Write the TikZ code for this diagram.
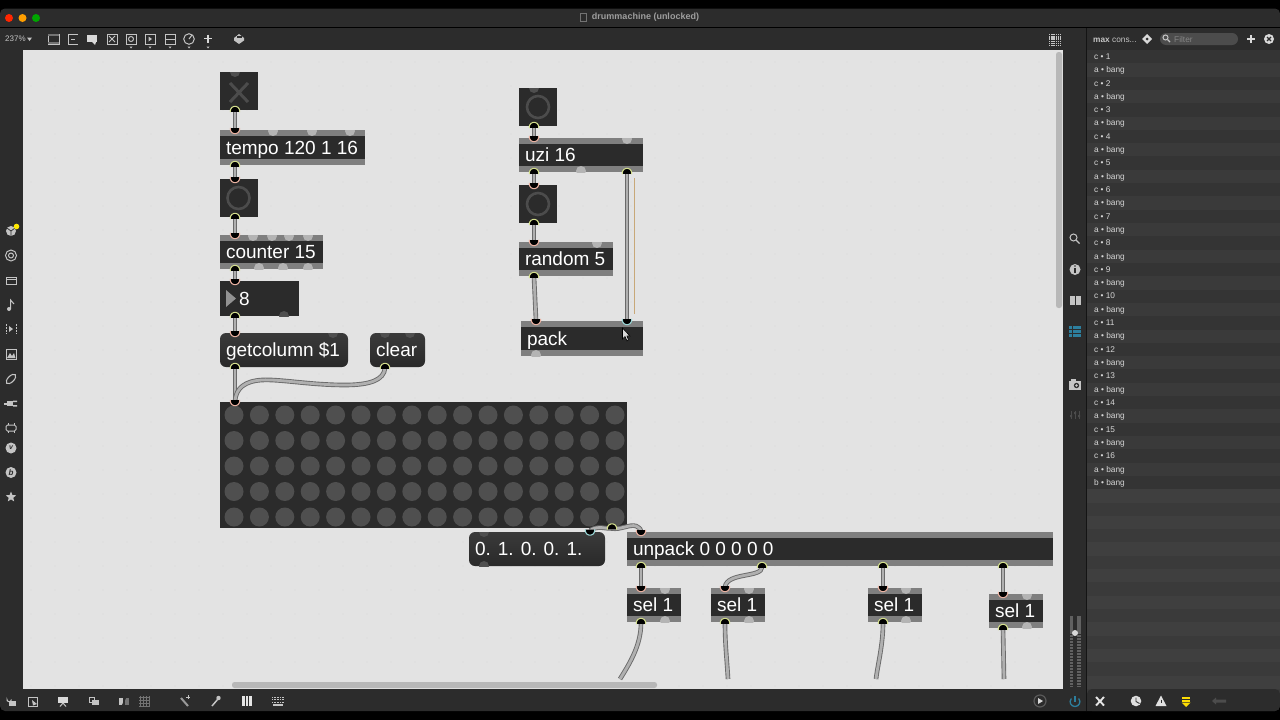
\documentclass[tikz,border=0pt]{standalone}
\usepackage{fontspec}
\setmainfont{Liberation Sans}
\usetikzlibrary{shapes.geometric}
\definecolor{winbar}{HTML}{2C2C2C}
\definecolor{canvasbg}{HTML}{E3E3E3}
\definecolor{griddot}{HTML}{DADADA}
\definecolor{objdark}{HTML}{2B2B2B}
\definecolor{strip}{HTML}{7F7F7F}
\definecolor{stripdot}{HTML}{B4B4B4}
\definecolor{msgtop}{HTML}{3A3A3A}
\definecolor{msgbot}{HTML}{292929}
\definecolor{darkdot}{HTML}{4F4F4F}
\definecolor{ringout}{HTML}{D3DE8C}
\definecolor{ringin}{HTML}{E8B0A0}
\definecolor{ringteal}{HTML}{9AD6D6}
\definecolor{wirebd}{HTML}{6A6A6A}
\definecolor{wirecore}{HTML}{B0B0B0}
\definecolor{icon}{HTML}{C4C4C4}
\definecolor{icondim}{HTML}{4C4C4C}
\definecolor{blueic}{HTML}{2D7F9E}
\definecolor{rowa}{HTML}{343434}
\definecolor{rowb}{HTML}{3A3A3A}
\definecolor{rowc}{HTML}{3A3A3A}
\definecolor{rowd}{HTML}{3F3F3F}
\definecolor{selline}{HTML}{C8A878}
\pgfdeclarelayer{wirelayer}
\pgfdeclarelayer{portlayer}
\pgfsetlayers{main,wirelayer,portlayer}
\tikzset{
  objbox/.style={rectangle,fill=strip,inner sep=0pt,outer sep=0pt},
  darkbox/.style={rectangle,fill=objdark,inner sep=0pt,outer sep=0pt},
  msgbox/.style={rectangle,rounded corners=6pt,top color=msgtop,bottom color=msgbot,inner sep=0pt,outer sep=0pt},
  objtext/.style={text=white,font=\fontsize{19}{19}\selectfont,inner sep=0pt,outer sep=0pt,anchor=base west},
  portdot/.style={circle,minimum size=9.5pt,inner sep=0pt,outer sep=0pt},
  ringline/.style={fill=black,line width=1.1pt,line join=round,line cap=round},
  wire/.style={draw=wirebd,line width=0.9pt,double=wirecore,double distance=2.8pt},
  ic/.style={draw=icon,line width=1pt},
  icf/.style={fill=icon},
  constext/.style={text=white!84!black,font=\fontsize{8.3}{9}\selectfont,inner sep=0pt,anchor=base west},
}
% name x0 y0 x1 y1 text topdots botdots
\newcommand{\maxobj}[8]{%
  \pgfmathsetmacro\objW{#4-#2}\pgfmathsetmacro\objH{#5-#3}%
  \node[objbox,minimum width=\objW pt,minimum height=\objH pt,anchor=north west] (#1) at (#2,#3) {};
  \begin{scope}
    \clip (#1.south west) rectangle (#1.north east);
    \foreach \d in {#7} \fill[stripdot] (\d,#3+1) circle (5pt);
    \foreach \d in {#8} \fill[stripdot] (\d,#5-1) circle (5pt);
  \end{scope}
  \fill[objdark] (#2,#3+6) rectangle (#4,#5-6);
  \node[objtext] (#1-t) at ({#2+6},{(#3+#5)/2+6.8}) {#6};
}
% name x0 y0 x1 y1 text topdots botdots
\newcommand{\maxmsg}[8]{%
  \pgfmathsetmacro\objW{#4-#2}\pgfmathsetmacro\objH{#5-#3}%
  \node[msgbox,minimum width=\objW pt,minimum height=\objH pt,anchor=north west] (#1) at (#2,#3) {};
  \begin{scope}
    \clip (#1.south west) rectangle (#1.north east);
    \foreach \d in {#7} \fill[darkdot] (\d,#3) circle (5pt);
    \foreach \d in {#8} \fill[darkdot] (\d,#5) circle (5pt);
  \end{scope}
  \node[objtext] (#1-t) at ({#2+6},{(#3+#5)/2+6.8}) {#6};
}
\newcommand{\maxbtn}[4]{%
  \node[darkbox,minimum width=38pt,minimum height=38pt,anchor=north west] (#1) at (#2,#3) {};
  \begin{scope}
    \clip (#1.south west) rectangle (#1.north east);
    \fill[darkdot] (#4,#3) circle (5pt);
  \end{scope}
}
% ports: black dome with a coloured rim on the half inside the box
\newcommand{\pout}[3]{\begin{pgfonlayer}{portlayer}\node[portdot] (#1) at (#2,#3+1.5) {};
  \draw[ringline,draw=ringout] (#1.190) -- (#1.160) -- (#1.130) -- (#1.100) -- (#1.80) -- (#1.50) -- (#1.20) -- (#1.350);\end{pgfonlayer}}
\newcommand{\pin}[3]{\begin{pgfonlayer}{portlayer}\node[portdot] (#1) at (#2,#3-1.5) {};
  \draw[ringline,draw=ringin] (#1.170) -- (#1.200) -- (#1.230) -- (#1.260) -- (#1.280) -- (#1.310) -- (#1.340) -- (#1.10);\end{pgfonlayer}}
\newcommand{\pteal}[3]{\begin{pgfonlayer}{portlayer}\node[portdot] (#1) at (#2,#3-1.5) {};
  \draw[ringline,draw=ringteal] (#1.170) -- (#1.200) -- (#1.230) -- (#1.260) -- (#1.280) -- (#1.310) -- (#1.340) -- (#1.10);\end{pgfonlayer}}
\newcommand{\conn}[2]{\begin{pgfonlayer}{wirelayer}\draw[wire] (#1.center) -- (#2.center);\end{pgfonlayer}}
\begin{document}
\begin{tikzpicture}[x=1pt,y=-1pt]
\useasboundingbox (0,0) rectangle (1280,720);
% window
\fill[black] (0,0) rectangle (1280,720);
\fill[winbar,rounded corners=5pt] (0,8.5) rectangle (1280,711);
\draw[black,line width=0.8pt] (0,27.5) -- (1280,27.5);
\fill[canvasbg] (23,50) rectangle (1063,689);
\foreach \gx in {31,55,...,1055} \foreach \gy in {62,86,...,686} \fill[griddot] (\gx,\gy) circle (0.7pt);
% scroll bars
\fill[white!72!black,rounded corners=2.5pt] (232,682) rectangle (657,688);
\fill[white!72!black,rounded corners=2.5pt] (1056,52) rectangle (1062,308);
% title
\fill[red!70!orange] (9,18) circle (4pt);
\fill[orange!75!yellow] (22.5,18) circle (4pt);
\fill[green!65!black] (36,18) circle (4pt);
\node[text=white!62!black,font=\bfseries\fontsize{9}{9}\selectfont,inner sep=0pt] (title) at (645.5,17.5) {drummachine (unlocked)};
\draw[white!45!black,line width=0.8pt] (580.5,13.5) rectangle (586,21.5);
% toolbar
\node[text=icon,font=\fontsize{8}{9}\selectfont,inner sep=0pt,anchor=west] (zoomlabel) at (5,38.5) {237\%};
\fill[icon] (27,37.5) -- (32,37.5) -- (29.5,41) -- cycle;
\draw[ic] (48,34) rectangle (59,44); \fill[white!45!black] (48,34) rectangle (59,36); \fill[white!45!black] (48,42) rectangle (59,44);
\draw[ic] (78,34) -- (68,34) -- (68,44) -- (78,44); \draw[icon,line width=0.6pt] (71,39) -- (75,39);
\fill[white!85!black] (87,35) rectangle (97,42); \fill[white!85!black] (92,42) -- (96,42) -- (95,45) -- cycle;
\draw[ic] (107,34) rectangle (117,44); \draw[ic] (109,36) -- (115,42) (115,36) -- (109,42);
\draw[ic] (126,34) rectangle (136,44); \draw[ic] (131,39) circle (2.5pt);
\draw[ic] (145,34) rectangle (155,44); \fill[icon] (148.5,36.5) -- (152,39) -- (148.5,41.5) -- cycle;
\draw[ic] (165,34) rectangle (175,44); \draw[ic] (165,39) -- (175,39);
\draw[ic] (189,39) circle (5.3pt); \draw[ic] (189,39) -- (192,35);
\draw[white!85!black,line width=1.3pt] (204,38.5) -- (212,38.5) (208,34.5) -- (208,42.5);
\foreach \tx in {131,150,170,189,208} \fill[icon] (\tx-1.5,46.5) -- (\tx+1.5,46.5) -- (\tx,48.5) -- cycle;
\fill[icon] (234,38) -- (239,34) -- (244,38) -- (244,40.5) -- (239,44) -- (234,40.5) -- cycle;
\fill[winbar] (236.5,38) rectangle (241.5,36);
% grid icon
\foreach \ia in {0,1,...,5} \foreach \ib in {0,1,...,5} \fill[icon] (1049+2.2*\ia,34+2.2*\ib) rectangle ++(1.4,1.4);
% left icons
\fill[icon] (11,231) circle (5pt);
\draw[winbar,line width=0.7pt] (11,231) -- (11,236) (11,231) -- (7,228) (11,231) -- (15,228);
\fill[yellow!90!orange] (16.5,226.5) circle (2.8pt);
\draw[ic] (11,255.5) circle (5.5pt) (11,255.5) circle (2.5pt);
\draw[ic] (6,277) rectangle (16,284); \draw[icon,line width=0.6pt] (6,279) -- (16,279);
\fill[icon] (9,309) circle (2pt); \draw[ic] (10.6,309) -- (10.6,300) -- (14,304);
\draw[icon,dashed,line width=1pt,dash pattern=on 1.6pt off 1.4pt] (6,324) -- (6,334) (16,324) -- (16,334);
\fill[icon] (9,326) -- (13,329) -- (9,332) -- cycle;
\draw[ic] (6,349) rectangle (16,359); \fill[icon] (7,358) -- (10,353) -- (12,356) -- (14,353) -- (15.5,358) -- cycle;
\draw[icon,line width=1.1pt,rotate around={-45:(11,379)}] (11,379) ellipse (3pt and 6pt);
\fill[icon] (7,401) rectangle (13,406); \fill[icon] (4,403) rectangle (7,404.5); \fill[icon] (13,400.5) rectangle (17,402) (13,405) rectangle (17,406.5);
\draw[ic,rounded corners=1.5pt] (6,425) rectangle (16,431); \draw[ic] (8,423) -- (8,425) (14,423) -- (14,425) (8,431) -- (8,433) (14,431) -- (14,433);
\node[circle,fill=icon,inner sep=0pt,minimum size=11pt,font=\itshape\bfseries\fontsize{7}{7}\selectfont,text=winbar] (vizzie) at (11,448) {v};
\node[circle,fill=icon,inner sep=0pt,minimum size=11pt,font=\itshape\bfseries\fontsize{8}{8}\selectfont,text=winbar] (beap) at (11,472.5) {b};
\node[star,star points=5,star point ratio=2.3,fill=icon,inner sep=0pt,minimum size=11pt] (favstar) at (11,497) {};
% bottom bar icons
\draw[ic] (7,701) -- (7,699.5) arc (180:360:2.2pt); \fill[icon] (9,701) rectangle (16,706);
\draw[ic] (28,697) rectangle (37,706); \fill[icon] (32,700) -- (37,704) -- (33,705.5) -- cycle;
\fill[white!85!black] (58,697) rectangle (68,703); \draw[ic] (63,703) -- (60,706.5) (63,703) -- (66,706.5);
\draw[ic] (89,697) rectangle (94,702); \fill[icon] (92,699.5) rectangle (99,705);
\fill[icon] (119,698) rectangle (123,705); \fill[white!45!black] (125,698) rectangle (129,705); \draw[winbar,line width=0.8pt] (121,708) -- (127,695);
\foreach \ga in {140,143,146,149} \draw[white!45!black,line width=0.6pt] (\ga,696) -- (\ga,706);
\foreach \ga in {697,700,703,706} \draw[white!45!black,line width=0.6pt] (139,\ga) -- (150,\ga);
\draw[white!60!black,line width=2pt] (181,698) -- (188,706); \draw[ic] (188,695) -- (188,699) (186,697) -- (190,697);
\draw[icon,line width=1.5pt] (212,706) -- (218,699); \fill[icon] (218.5,698) circle (2.2pt);
\fill[white!90!black] (242,696) rectangle (252,706); \draw[winbar,line width=0.8pt] (245.3,696) -- (245.3,706) (248.7,696) -- (248.7,706);
\foreach \ky in {697,699.5,702} \draw[icon,line width=1pt,dash pattern=on 1pt off 0.6pt] (272,\ky) -- (284,\ky);
\fill[icon] (273,704) rectangle (283,706);
\draw[white!35!black,line width=1.2pt] (1040,701) circle (6pt); \fill[white!85!black] (1038,698) -- (1043,701) -- (1038,704) -- cycle;
% right strip
\draw[ic] (1073.5,237.5) circle (3.5pt); \draw[icon,line width=1.4pt] (1076,240) -- (1079.5,243.5);
\fill[icon] (1075,269.5) circle (5.5pt); \draw[winbar,line width=1.2pt] (1075,268) -- (1075,273); \fill[winbar] (1075,266) circle (0.8pt);
\fill[icon] (1069.5,296) rectangle (1074.5,304.5); \fill[icon] (1075.5,296) rectangle (1080.5,304.5);
\fill[blueic] (1069,326) rectangle (1080.5,336.5); \draw[winbar,line width=0.5pt] (1072,326) -- (1072,336.5) (1069,329.5) -- (1080.5,329.5) (1069,333) -- (1080.5,333);
\fill[icon] (1069,381) rectangle (1081,390); \fill[icon] (1071,379) rectangle (1076,381); \fill[winbar] (1076.5,385.5) circle (2.7pt); \fill[icon] (1076.5,385.5) circle (1.3pt);
\draw[icondim,line width=0.8pt] (1071,411) -- (1071,419) (1075,411) -- (1075,419) (1079,411) -- (1079,419);
\fill[icondim] (1070,415) rectangle (1072,417) (1074,412) rectangle (1076,414) (1078,415) rectangle (1080,417);
\fill[white!38!black] (1069.5,616) rectangle (1073,687); \fill[white!38!black] (1076.5,616) rectangle (1080.5,687);
\foreach \sy in {634,637,...,686} \draw[winbar,line width=0.6pt] (1069,\sy) -- (1081,\sy);
\fill[white!85!black] (1075,633) circle (3pt);
\draw[blueic,line width=1.3pt] (1071.3,698.5) .. controls (1068.5,702) and (1071,706.5) .. (1075,706.5) .. controls (1079,706.5) and (1081.5,702) .. (1078.7,698.5);
\draw[blueic,line width=1.3pt] (1075,696) -- (1075,701.5);
% console
\fill[winbar] (1087,28) rectangle (1280,50);
\foreach \r in {0,1,...,48}{
  \pgfmathtruncatemacro\isodd{mod(\r,2)}
  \ifnum\r<33
    \ifnum\isodd=0 \def\rc{rowa}\else\def\rc{rowb}\fi
  \else
    \ifnum\isodd=0 \def\rc{rowc}\else\def\rc{rowd}\fi
  \fi
  \fill[\rc] (1087,{50+13.31*\r}) rectangle (1280,{50+13.31*(\r+1)});
}
\fill[winbar,rounded corners=5pt] (1087,689) -- (1280,689) -- (1280,711) -- (1087,711) -- cycle;
\fill[black!92!white] (1086,28) rectangle (1087.3,711);
\node[constext,text=icon] (conshead) at (1093,42.5) {\textbf{max} cons...};
\fill[white!85!black] (1147,34) -- (1152,39) -- (1147,44) -- (1142,39) -- cycle; \fill[winbar] (1147,39) circle (1.5pt);
\fill[white!30!black,rounded corners=6pt] (1160,33) rectangle (1238,45);
\draw[icon,line width=1pt] (1165.5,37.5) circle (2.5pt); \draw[icon,line width=1.2pt] (1167.5,39.5) -- (1170,42);
\node[constext,text=white!52!black] (filter) at (1174,42) {Filter};
\draw[white!85!black,line width=1.4pt] (1247,39) -- (1255,39) (1251,35) -- (1251,43);
\fill[white!85!black] (1269,39) circle (5pt); \draw[winbar,line width=1.2pt] (1267,37) -- (1271,41) (1271,37) -- (1267,41);
\foreach \n in {1,...,16}{
  \pgfmathsetmacro\yc{59.4+26.62*(\n-1)}
  \pgfmathsetmacro\ya{\yc+13.31}
  \node[constext] at (1094,\yc) {c • \n};
  \node[constext] at (1094,\ya) {a • bang};
}
\node[constext] (lastline) at (1094,485.5) {b • bang};
% bottom right of console
\draw[white!90!black,line width=1.9pt] (1096,697) -- (1104,705.5) (1104,697) -- (1096,705.5);
\fill[white!88!black] (1136,701) circle (5.3pt); \draw[winbar,line width=0.9pt] (1136,697.5) -- (1136,701.5) -- (1139.5,703.5);
\fill[white!88!black] (1161,695.5) -- (1166.5,706) -- (1155.5,706) -- cycle; \draw[winbar,line width=1pt] (1161,699.5) -- (1161,703); 
\foreach \sy in {696.5,699.5} \fill[yellow!80!orange] (1182,\sy) rectangle (1190,\sy+2);
\fill[yellow!80!orange] (1181.5,702.5) -- (1190.5,702.5) -- (1186,707) -- cycle;
\fill[white!30!black] (1216,699.5) rectangle (1226,702.5) (1216,697.5) -- (1212,701) -- (1216,704.5) -- cycle;

% === patcher objects ===
\maxbtn{tog}{220}{72}{235}
\draw[icondim,line width=3pt] (230,83) -- (248,102) (248,83) -- (230,102);
\maxobj{tempo}{220}{130}{365}{165}{tempo 120 1 16}{273,312,350}{-50}
\maxbtn{btna}{220}{179}{-50}
\draw[icondim,line width=2.6pt] (238.5,198) circle (11pt);
\maxobj{counter}{220}{235}{323}{269}{counter 15}{253,272,289,308}{259,283,308}
\node[darkbox,minimum width=79pt,minimum height=35pt,anchor=north west] (num) at (220,281) {};
\fill[strip!85] (226,290) -- (236,298.5) -- (226,307) -- cycle;
\node[objtext] (num-t) at (239,305.3) {8};
\begin{scope}\clip (num.south west) rectangle (num.north east); \fill[darkdot] (284,316) circle (5pt);\end{scope}
\maxmsg{getcol}{220}{333}{348}{367}{getcolumn \$1}{333}{-50}
\maxmsg{clear}{370}{333}{425}{367}{clear}{385,410}{-50}
% matrix
\node[darkbox,minimum width=407pt,minimum height=126pt,anchor=north west] (matrix) at (220,402) {};
\foreach \mr in {0,1,2,3,4} \foreach \mc in {0,1,...,15} \fill[darkdot] ({234+25.4*\mc},{415+25.5*\mr}) circle (9.5pt);
\maxmsg{listm}{469}{532}{605}{566}{0. 1. 0. 0. 1.}{484}{484}
\maxobj{unpack}{627}{532}{1053}{566}{unpack 0 0 0 0 0}{-50}{-50}
\maxobj{selA}{627}{588}{681}{622}{sel 1}{665}{665}
\maxobj{selB}{711}{588}{765}{622}{sel 1}{749}{749}
\maxobj{selC}{868}{588}{922}{622}{sel 1}{906}{906}
\maxobj{selD}{989}{594}{1043}{628}{sel 1}{1027}{1027}
\maxbtn{btnb}{519}{88}{534}
\draw[icondim,line width=2.6pt] (538,107) circle (11pt);
\maxobj{uzi}{519}{138}{643}{172}{uzi 16}{627}{581}
\maxbtn{btnc}{519}{185}{-50}
\draw[icondim,line width=2.6pt] (538,204) circle (11pt);
\maxobj{random}{519}{242}{613}{276}{random 5}{597}{-50}
\maxobj{pack}{521}{321}{643}{356}{pack}{-50}{536}

% === ports ===
\pout{togo}{235}{109.5}
\pin{tempoi}{235}{130.5}
\pout{tempoo}{235}{164.5}
\pin{btnai}{235}{179.5}
\pout{btnao}{235}{216.5}
\pin{counti}{235}{235.5}
\pout{counto}{235}{268.5}
\pin{numi}{235}{281.5}
\pout{numo}{235}{315.5}
\pin{getcoli}{235}{333.5}
\pout{getcolo}{235}{366.5}
\pout{clearo}{385}{366.5}
\pin{mati}{235}{402.5}
\pout{mato}{612}{527}
\pteal{listi}{590}{532}
\pin{unpi}{641}{532.5}
\pout{unpa}{641}{565.5}
\pout{unpb}{762}{565.5}
\pout{unpc}{883}{565.5}
\pout{unpd}{1003}{565.5}
\pin{selAi}{641}{588.5}
\pout{selAo}{641}{621.5}
\pin{selBi}{725}{588.5}
\pout{selBo}{725}{621.5}
\pin{selCi}{883}{588.5}
\pout{selCo}{883}{621.5}
\pin{selDi}{1003}{594.5}
\pout{selDo}{1003}{627.5}
\pout{btnbo}{534}{125.5}
\pin{uzii}{534}{138.5}
\pout{uzia}{534}{171.5}
\pout{uzib}{627}{171.5}
\pin{btnci}{534}{185.5}
\pout{btnco}{534}{222.5}
\pin{randi}{534}{242.5}
\pout{rando}{534}{275.5}
\pin{packa}{536}{321.5}
\pteal{packb}{627}{321.5}

% === connectors ===
\conn{togo}{tempoi}
\conn{tempoo}{btnai}
\conn{btnao}{counti}
\conn{counto}{numi}
\conn{numo}{getcoli}
\conn{getcolo}{mati}
\conn{unpa}{selAi}
\conn{unpc}{selCi}
\conn{unpd}{selDi}
\conn{btnbo}{uzii}
\conn{uzia}{btnci}
\conn{btnco}{randi}
\conn{rando}{packa}
\conn{uzib}{packb}
\coordinate (endA) at (620,679);
\coordinate (endB) at (728,679);
\coordinate (endC) at (876,679);
\coordinate (endD) at (1004,679);
\coordinate (clearm) at (345,385);
\coordinate (clearn) at (262,380);
\begin{pgfonlayer}{wirelayer}
\draw[wire] (clearo.center) .. controls (384,380) and (370,385) .. (clearm) .. controls (310,385) and (280,379) .. (clearn) .. controls (245,381) and (236,388) .. (mati.center);
\draw[wire] (mato.center) .. controls (606,529) and (598,525) .. (listi.center);
\draw[wire] (mato.center) .. controls (620,530) and (630,524) .. (636,526) .. controls (640,528) and (641,530) .. (unpi.center);
\draw[wire] (unpb.center) .. controls (762,578) and (727,572) .. (selBi.center);
\draw[wire] (selAo.center) .. controls (641,645) and (630,663) .. (endA);
\draw[wire] (selBo.center) .. controls (725,645) and (727,660) .. (endB);
\draw[wire] (selCo.center) .. controls (883,645) and (878,663) .. (endC);
\draw[wire] (selDo.center) -- (endD);
\end{pgfonlayer}
% selection line and pointer
\coordinate (selU) at (634.5,178);
\coordinate (selL) at (634.5,314);
\begin{pgfonlayer}{portlayer}
\draw[selline,line width=1.4pt] (selU) -- (selL);
\fill[white!85!black,draw=black,line width=0.6pt] (622.5,328) -- (622.5,339) -- (625,336.5) -- (627,341) -- (628.5,340) -- (627,336) -- (630,336) -- cycle;
\end{pgfonlayer}
\end{tikzpicture}
\end{document}
